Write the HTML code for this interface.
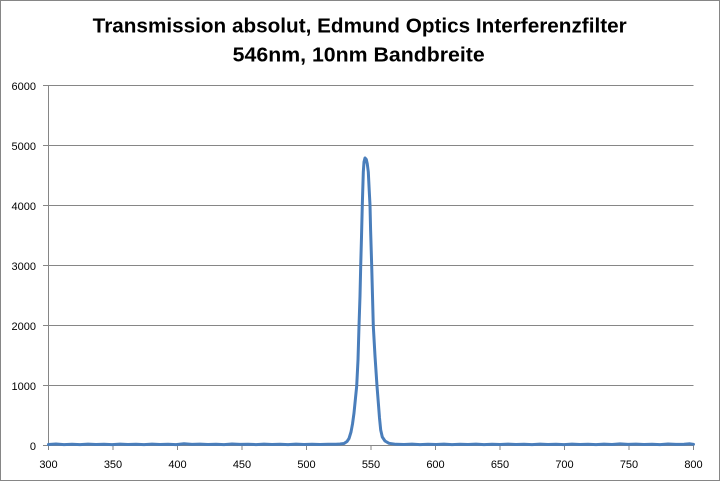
<!DOCTYPE html>
<html><head><meta charset="utf-8"><style>
html,body{margin:0;padding:0;background:#fff;}
svg{display:block;}
</style></head><body>
<svg width="720" height="481" viewBox="0 0 720 481" xmlns="http://www.w3.org/2000/svg">
<rect x="0" y="0" width="720" height="481" fill="#fff"/>
<rect x="0.5" y="0.5" width="719" height="480" fill="none" stroke="#868686" stroke-width="1"/>
<g font-family="'Liberation Sans', sans-serif" font-weight="bold" font-size="20" fill="#000">
<text x="92.7" y="32.3" textLength="534" lengthAdjust="spacingAndGlyphs">Transmission absolut, Edmund Optics Interferenzfilter</text>
<text x="232.7" y="61.3" textLength="252" lengthAdjust="spacingAndGlyphs">546nm, 10nm Bandbreite</text>
</g>
<g stroke="#868686" stroke-width="1" fill="none">
<line x1="43" y1="85.5" x2="693.5" y2="85.5"/>
<line x1="43" y1="145.5" x2="693.5" y2="145.5"/>
<line x1="43" y1="205.5" x2="693.5" y2="205.5"/>
<line x1="43" y1="265.5" x2="693.5" y2="265.5"/>
<line x1="43" y1="325.5" x2="693.5" y2="325.5"/>
<line x1="43" y1="385.5" x2="693.5" y2="385.5"/>
<line x1="43" y1="445.5" x2="693.5" y2="445.5"/>
<line x1="48.5" y1="85" x2="48.5" y2="450"/>
<line x1="113" y1="445" x2="113" y2="450"/>
<line x1="177.5" y1="445" x2="177.5" y2="450"/>
<line x1="242" y1="445" x2="242" y2="450"/>
<line x1="306.5" y1="445" x2="306.5" y2="450"/>
<line x1="371" y1="445" x2="371" y2="450"/>
<line x1="435.5" y1="445" x2="435.5" y2="450"/>
<line x1="500" y1="445" x2="500" y2="450"/>
<line x1="564.5" y1="445" x2="564.5" y2="450"/>
<line x1="629" y1="445" x2="629" y2="450"/>
<line x1="693.5" y1="445" x2="693.5" y2="450"/>
</g>
<g font-family="'Liberation Sans', sans-serif" font-size="11" fill="#000" text-anchor="end">
<text x="36" y="90">6000</text>
<text x="36" y="150">5000</text>
<text x="36" y="210">4000</text>
<text x="36" y="270">3000</text>
<text x="36" y="330">2000</text>
<text x="36" y="390">1000</text>
<text x="36" y="450">0</text>
</g>
<g font-family="'Liberation Sans', sans-serif" font-size="11" fill="#000" text-anchor="middle">
<text x="48.5" y="468">300</text>
<text x="113" y="468">350</text>
<text x="177.5" y="468">400</text>
<text x="242" y="468">450</text>
<text x="306.5" y="468">500</text>
<text x="371" y="468">550</text>
<text x="435.5" y="468">600</text>
<text x="500" y="468">650</text>
<text x="564.5" y="468">700</text>
<text x="629" y="468">750</text>
<text x="693.5" y="468">800</text>
</g>
<polyline fill="none" stroke="#4a7ebb" stroke-width="3" stroke-linejoin="round" stroke-linecap="round"
points="48.5,444.5 56,444 64,444.6 72,444.2 80,444.6 88,444.1 96,444.5 104,444.2 112,444.6 120,444.1 128,444.5 136,444.3 144,444.6 152,444.1 160,444.5 168,444.2 176,444.6 184,443.8 192,444.4 200,444.1 208,444.5 216,444.2 224,444.6 232,444 240,444.4 248,444.2 256,444.6 264,444.1 272,444.5 280,444.2 288,444.6 296,444.1 304,444.5 312,444.2 320,444.5 328,444.2 336,444.3 340,444 344,443.5 347,441.5 349,438.5 351,432 352.5,424 354,413 355.5,398 356.7,386 358,360 359,326 360,296 360.7,266 361.5,237 362.3,205 363.3,172 364,162 365,158 366.3,159.5 367.3,164 368.3,172 369.3,192 370,205 370.6,230 371.7,266 372.5,296 373.3,326 375,356 377,386 378.5,405 379.5,418 380.7,430 382.3,437 385,441 389,443.3 396,444.3 404,444.5 412,444.1 420,444.6 428,444.2 436,444.5 444,444.1 452,444.6 460,444.2 468,444.5 476,444.1 484,444.6 492,444.2 500,444.5 508,444.1 516,444.5 524,444.2 532,444.6 540,444.1 548,444.5 556,444.2 564,444.6 572,444.1 580,444.5 588,444.2 596,444.6 604,444.1 612,444.5 620,443.9 628,444.4 636,444.1 644,444.5 652,444.2 660,444.6 668,444 676,444.4 684,444.2 690,443.8 693.5,444.3"/>
</svg>
</body></html>
